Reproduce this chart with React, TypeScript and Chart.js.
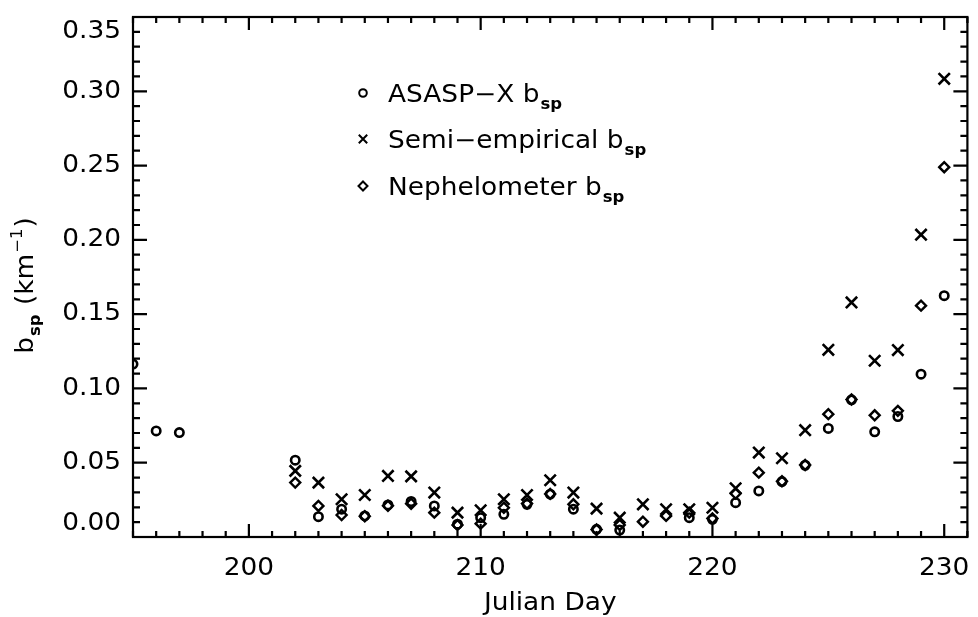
import React, { useEffect, useRef } from "react";
import { Chart, registerables } from "chart.js";

Chart.register(...registerables);

// ---- Data ----
const asaspDays = [195, 196, 197, 202, 203, 204, 205, 206, 207, 208, 209, 210, 211, 212, 213, 214, 215, 216, 219, 220, 221, 222, 223, 224, 225, 226, 227, 228, 229, 230];
const asaspValues = [0.1164, 0.0714, 0.0703, 0.0517, 0.0137, 0.0187, 0.0142, 0.0216, 0.0239, 0.0209, 0.0086, 0.013, 0.0153, 0.022, 0.0288, 0.0187, 0.0052, 0.0047, 0.013, 0.0119, 0.0231, 0.031, 0.0373, 0.0483, 0.0731, 0.0923, 0.0708, 0.0811, 0.1096, 0.1624];

const semiDays = [202, 203, 204, 205, 206, 207, 208, 209, 210, 211, 212, 213, 214, 215, 216, 217, 218, 219, 220, 221, 222, 223, 224, 225, 226, 227, 228, 229, 230];
const semiValues = [0.0445, 0.0366, 0.0254, 0.0283, 0.0411, 0.0408, 0.0299, 0.0164, 0.018, 0.0254, 0.0283, 0.0382, 0.0299, 0.0191, 0.013, 0.022, 0.0187, 0.0187, 0.0197, 0.0328, 0.0568, 0.053, 0.0719, 0.126, 0.1579, 0.1186, 0.1258, 0.2035, 0.3084];

const nephDays = [202, 203, 204, 205, 206, 207, 208, 209, 210, 211, 212, 213, 214, 215, 216, 217, 218, 219, 220, 221, 222, 223, 224, 225, 226, 227, 228, 229, 230];
const nephValues = [0.0366, 0.0209, 0.0148, 0.014, 0.021, 0.0224, 0.0164, 0.008, 0.009, 0.0197, 0.0225, 0.029, 0.022, 0.005, 0.0081, 0.0103, 0.0142, 0.0164, 0.0125, 0.0292, 0.0433, 0.0375, 0.0485, 0.0827, 0.0925, 0.0819, 0.0849, 0.1557, 0.2489];

const xTickLabels = [200, 210, 220, 230];
const yTickLabels = [0.0, 0.05, 0.1, 0.15, 0.2, 0.25, 0.3, 0.35];
const xRange = [195, 231];
const yRange = [0, 0.35];

const seriesNames = ["ASASP\u2212X b", "Semi\u2212empirical b", "Nephelometer b"];
const seriesStyles = ["circle", "crossRot", "rectRot"];

const FONT = '"DejaVu Sans", sans-serif';
const STRETCH = 1.1;

function toPoints(days: number[], vals: number[]) {
  return days.map((d, i) => ({ x: d, y: vals[i] }));
}

function drawStretched(ctx: CanvasRenderingContext2D, text: string, x: number, y: number, align: "left" | "center" | "right") {
  const w = ctx.measureText(text).width * STRETCH;
  let sx = x;
  if (align === "center") sx = x - w / 2;
  else if (align === "right") sx = x - w;
  ctx.save();
  ctx.translate(sx, y);
  ctx.scale(STRETCH, 1);
  ctx.textAlign = "left";
  ctx.fillText(text, 0, 0);
  ctx.restore();
  return w;
}

function drawMarker(ctx: CanvasRenderingContext2D, style: string, x: number, y: number) {
  ctx.save();
  ctx.strokeStyle = "#000";
  ctx.lineWidth = 2;
  ctx.beginPath();
  if (style === "circle") {
    ctx.arc(x, y, 3.8, 0, Math.PI * 2);
  } else if (style === "crossRot") {
    const o = 4.2;
    ctx.moveTo(x - o, y - o);
    ctx.lineTo(x + o, y + o);
    ctx.moveTo(x - o, y + o);
    ctx.lineTo(x + o, y - o);
  } else {
    const r = 4.5;
    ctx.moveTo(x, y - r);
    ctx.lineTo(x + r, y);
    ctx.lineTo(x, y + r);
    ctx.lineTo(x - r, y);
    ctx.closePath();
  }
  ctx.stroke();
  ctx.restore();
}

// label with subscript "sp"
function drawWithSub(ctx: CanvasRenderingContext2D, text: string, x: number, y: number) {
  ctx.font = `24px ${FONT}`;
  ctx.textBaseline = "alphabetic";
  const w = drawStretched(ctx, text, x, y, "left");
  ctx.font = `bold 15px ${FONT}`;
  drawStretched(ctx, "sp", x + w + 1, y + 7, "left");
}

const framePlugin = {
  id: "framePlugin",
  afterDraw(chart: any) {
    const { ctx, chartArea: a, scales } = chart;
    const xs = scales.x;
    const ys = scales.y;
    ctx.save();
    ctx.strokeStyle = "#000";
    ctx.fillStyle = "#000";
    ctx.lineWidth = 2.2;
    ctx.strokeRect(a.left, a.top, a.right - a.left, a.bottom - a.top);

    ctx.beginPath();
    for (let d = Math.ceil(xs.min); d <= xs.max; d++) {
      const px = xs.getPixelForValue(d);
      const len = d % 10 === 0 ? 13 : 6;
      ctx.moveTo(px, a.bottom);
      ctx.lineTo(px, a.bottom - len);
      ctx.moveTo(px, a.top);
      ctx.lineTo(px, a.top + len);
    }
    for (let i = 0; i <= 35; i++) {
      const py = ys.getPixelForValue(i / 100);
      const len = i % 5 === 0 ? 14 : 7;
      ctx.moveTo(a.left, py);
      ctx.lineTo(a.left + len, py);
      ctx.moveTo(a.right, py);
      ctx.lineTo(a.right - len, py);
    }
    ctx.stroke();

    // y tick labels
    ctx.font = `24px ${FONT}`;
    ctx.textBaseline = "middle";
    yTickLabels.forEach((v) => {
      let py = ys.getPixelForValue(v);
      py = Math.min(Math.max(py, a.top + 15), a.bottom - 13);
      drawStretched(ctx, v.toFixed(2), 121, py, "right");
    });
    // x tick labels
    xTickLabels.forEach((v) => {
      const px = xs.getPixelForValue(v);
      drawStretched(ctx, String(v), px, 569, "center");
    });
    // x title
    ctx.textBaseline = "alphabetic";
    drawStretched(ctx, "Julian Day", (a.left + a.right) / 2, 610, "center");

    // y title (rotated)
    ctx.save();
    ctx.translate(33, (a.top + a.bottom) / 2 + 8);
    ctx.rotate(-Math.PI / 2);
    const parts: [string, string, number][] = [
      ["b", `24px ${FONT}`, 0],
      ["sp", `bold 15px ${FONT}`, 7],
      [" (km", `24px ${FONT}`, 0],
      ["\u22121", `15px ${FONT}`, -11],
      [")", `24px ${FONT}`, 0],
    ];
    let total = 0;
    parts.forEach(([t, f]) => {
      ctx.font = f;
      total += ctx.measureText(t).width * STRETCH + 1;
    });
    let cx = -total / 2;
    ctx.textBaseline = "alphabetic";
    parts.forEach(([t, f, dy]) => {
      ctx.font = f;
      cx += drawStretched(ctx, t, cx, dy, "left") + 1;
    });
    ctx.restore();

    // legend
    const rows = [93, 139, 186];
    rows.forEach((ry, i) => {
      drawMarker(ctx, seriesStyles[i], 363, ry);
      drawWithSub(ctx, seriesNames[i], 388, ry + 9);
    });

    ctx.restore();
  },
};

export default function App() {
  const ref = useRef<HTMLCanvasElement | null>(null);
  useEffect(() => {
    document.body.style.margin = "0";
    const canvas = ref.current;
    if (!canvas) return;
    const common = {
      showLine: false,
      borderColor: "#000",
      backgroundColor: "rgba(0,0,0,0)",
      pointBorderColor: "#000",
      pointBackgroundColor: "rgba(0,0,0,0)",
      pointBorderWidth: 2.6,
      clip: 0,
    };
    const chart = new Chart(canvas, {
      type: "scatter",
      data: {
        datasets: [
          { ...common, label: seriesNames[0], data: toPoints(asaspDays, asaspValues), pointStyle: "circle", pointRadius: 4.2 },
          { ...common, label: seriesNames[1], data: toPoints(semiDays, semiValues), pointStyle: "crossRot", pointRadius: 8 },
          { ...common, label: seriesNames[2], data: toPoints(nephDays, nephValues), pointStyle: "rectRot", pointRadius: 5, pointBorderWidth: 2.4 },
        ],
      },
      options: {
        responsive: false,
        animation: false,
        events: [],
        layout: { padding: { left: 133, right: 3, top: 17, bottom: 80 } },
        plugins: { legend: { display: false }, tooltip: { enabled: false }, title: { display: false } },
        scales: {
          x: { type: "linear", min: xRange[0], max: xRange[1], display: false },
          y: { type: "linear", min: yRange[0], max: yRange[1], display: false },
        },
      },
      plugins: [framePlugin],
    });
    return () => chart.destroy();
  }, []);
  return (
    <div style={{ position: "fixed", left: 0, top: 0, width: 978, height: 617, background: "#fff" }}>
      <canvas ref={ref} width={978} height={617} />
    </div>
  );
}
